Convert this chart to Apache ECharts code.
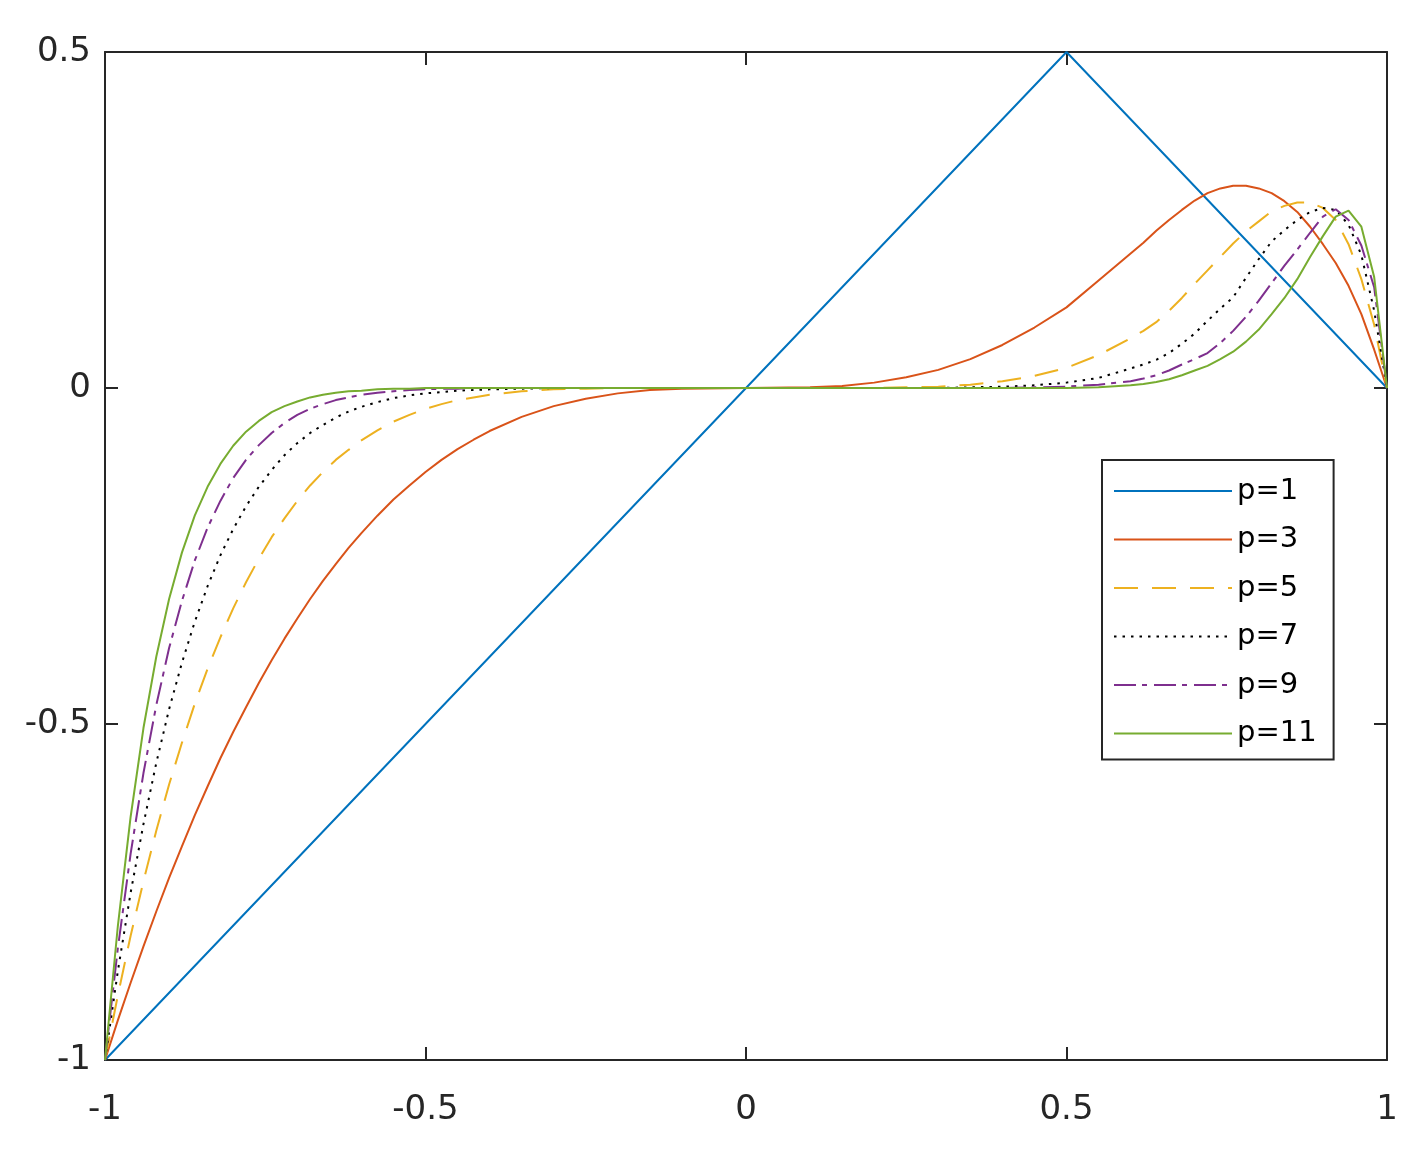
<!DOCTYPE html>
<html>
<head>
<meta charset="utf-8">
<script src="https://cdn.jsdelivr.net/npm/echarts@6/dist/echarts.min.js"></script>
<style>
  html, body { margin: 0; padding: 0; background: #fff; }
  #chart { width: 1422px; height: 1150px; }
</style>
</head>
<body>
<div id="chart"></div>
<script>
// sample points along x (shared by p=3..11)
const xGrid = [
  -1, -0.98, -0.96, -0.94, -0.92, -0.9, -0.88, -0.86, -0.84, -0.82,
  -0.8, -0.78, -0.76, -0.74, -0.72, -0.7, -0.68, -0.66, -0.64, -0.62,
  -0.6, -0.575, -0.55, -0.525, -0.5, -0.475, -0.45, -0.425, -0.4, -0.35,
  -0.3, -0.25, -0.2, -0.15, -0.1,
  0,
  0.1, 0.15, 0.2, 0.25, 0.3, 0.35, 0.4, 0.45, 0.5, 0.55,
  0.6, 0.62, 0.64, 0.66, 0.68, 0.7, 0.72, 0.74, 0.76, 0.78,
  0.8, 0.82, 0.84, 0.86, 0.88, 0.9, 0.92, 0.94, 0.96, 0.98,
  1];

const p1X = [-1, 0.5, 1];
const p1Y = [-1, 0.5, 0];

const p3Y = [
  -1, -0.941, -0.885, -0.831, -0.779, -0.729, -0.682, -0.636, -0.593, -0.551,
  -0.512, -0.475, -0.439, -0.405, -0.373, -0.343, -0.314, -0.287, -0.262, -0.238,
  -0.216, -0.19, -0.166, -0.145, -0.125, -0.107, -0.091, -0.077, -0.064, -0.043,
  -0.027, -0.016, -0.008, -0.003, -0.001,
  0,
  0.001, 0.003, 0.008, 0.016, 0.027, 0.043, 0.064, 0.09, 0.12, 0.16,
  0.2, 0.216, 0.234, 0.25, 0.265, 0.279, 0.29, 0.297, 0.301, 0.301,
  0.297, 0.29, 0.278, 0.262, 0.24, 0.214, 0.186, 0.152, 0.11, 0.057,
  0];

const p5Y = [
  -1, -0.904, -0.815, -0.734, -0.659, -0.59, -0.528, -0.47, -0.418, -0.371,
  -0.328, -0.289, -0.254, -0.222, -0.194, -0.168, -0.145, -0.125, -0.107, -0.092,
  -0.078, -0.063, -0.05, -0.04, -0.031, -0.024, -0.018, -0.014, -0.01, -0.005,
  -0.002, -0.001, 0, 0, 0,
  0,
  0, 0, 0, 0.001, 0.002, 0.005, 0.01, 0.018, 0.03, 0.049,
  0.074, 0.085, 0.098, 0.115, 0.134, 0.155, 0.175, 0.195, 0.215, 0.233,
  0.248, 0.263, 0.271, 0.276, 0.276, 0.268, 0.25, 0.214, 0.162, 0.094,
  0];

const p7Y = [
  -1, -0.868, -0.751, -0.649, -0.558, -0.478, -0.409, -0.348, -0.295, -0.249,
  -0.21, -0.176, -0.147, -0.122, -0.1, -0.082, -0.067, -0.055, -0.044, -0.035,
  -0.028, -0.021, -0.015, -0.011, -0.008, -0.006, -0.004, -0.003, -0.002, -0.001,
  0, 0, 0, 0, 0,
  0,
  0, 0, 0, 0, 0, 0.001, 0.002, 0.004, 0.008, 0.015,
  0.029, 0.035, 0.042, 0.052, 0.066, 0.081, 0.1, 0.118, 0.135, 0.164,
  0.192, 0.218, 0.235, 0.25, 0.262, 0.268, 0.265, 0.243, 0.198, 0.115,
  0];

const p9Y = [
  -1, -0.834, -0.693, -0.573, -0.472, -0.387, -0.317, -0.257, -0.208, -0.168,
  -0.134, -0.107, -0.085, -0.067, -0.052, -0.04, -0.031, -0.024, -0.018, -0.014,
  -0.01, -0.007, -0.005, -0.003, -0.002, -0.001, -0.001, 0, 0, 0,
  0, 0, 0, 0, 0,
  0,
  0, 0, 0, 0, 0, 0, 0, 0.001, 0.002, 0.005,
  0.01, 0.014, 0.019, 0.026, 0.035, 0.043, 0.052, 0.067, 0.085, 0.106,
  0.13, 0.156, 0.182, 0.206, 0.231, 0.255, 0.266, 0.25, 0.212, 0.15,
  0];

const p11Y = [
  -1, -0.801, -0.638, -0.506, -0.4, -0.314, -0.245, -0.19, -0.147, -0.113,
  -0.086, -0.065, -0.049, -0.036, -0.027, -0.02, -0.014, -0.01, -0.007, -0.005,
  -0.004, -0.002, -0.001, -0.001, 0, 0, 0, 0, 0, 0,
  0, 0, 0, 0, 0,
  0,
  0, 0, 0, 0, 0, 0, 0, 0, 0, 0.001,
  0.004, 0.006, 0.009, 0.013, 0.019, 0.026, 0.033, 0.043, 0.054, 0.069,
  0.087, 0.11, 0.134, 0.162, 0.195, 0.226, 0.255, 0.264, 0.24, 0.165,
  0];

const xTicks = [-1, -0.5, 0, 0.5, 1];
const yTicks = [-1, -0.5, 0, 0.5];

const pair = (xs, ys) => xs.map((x, i) => [x, ys[i]]);

const chart = echarts.init(document.getElementById('chart'));

const axisColor = '#262626';
const tickFont = { fontFamily: 'DejaVu Sans', fontSize: 34, color: '#262626' };

// box axis (MATLAB style): line on all four sides, ticks pointing in
const boxAxis = (position, min, max, labels, margin) => ({
  type: 'value', min, max, interval: 0.5, position,
  axisLine: { show: true, onZero: false, lineStyle: { color: axisColor, width: 2 } },
  axisTick: { show: true, inside: true, length: 13, lineStyle: { color: axisColor, width: 2 } },
  axisLabel: labels ? { ...tickFont, margin } : { show: false },
  splitLine: { show: false }
});

const makeLine = (name, data, color, type) => ({
  name,
  type: 'line',
  data,
  symbol: 'none',
  showSymbol: false,
  lineStyle: { color, width: 2, type },
  itemStyle: { color },
  z: 3
});

chart.setOption({
  animation: false,
  backgroundColor: '#fff',
  grid: { left: 105, right: 35, top: 52, bottom: 90, containLabel: false },
  xAxis: [
    boxAxis('bottom', xTicks[0], xTicks[xTicks.length - 1], true, 33),
    boxAxis('top', xTicks[0], xTicks[xTicks.length - 1], false)
  ],
  yAxis: [
    boxAxis('left', yTicks[0], yTicks[yTicks.length - 1], true, 14),
    boxAxis('right', yTicks[0], yTicks[yTicks.length - 1], false)
  ],
  legend: {
    left: 1102,
    top: 460,
    orient: 'vertical',
    backgroundColor: '#fff',
    borderColor: '#262626',
    borderWidth: 2,
    borderRadius: 0,
    padding: [14, 17, 9, 11],
    itemWidth: 118,
    itemHeight: 20,
    itemGap: 14.5,
    itemStyle: { opacity: 0 },
    textStyle: { fontFamily: 'DejaVu Sans', fontSize: 29, lineHeight: 34, color: '#000' },
    data: ['p=1', 'p=3', 'p=5', 'p=7', 'p=9', 'p=11']
  },
  series: [
    makeLine('p=1', pair(p1X, p1Y), '#0072BD', 'solid'),
    makeLine('p=3', pair(xGrid, p3Y), '#D95319', 'solid'),
    makeLine('p=5', pair(xGrid, p5Y), '#EDB120', [24, 14]),
    makeLine('p=7', pair(xGrid, p7Y), '#000000', [2.5, 6]),
    makeLine('p=9', pair(xGrid, p9Y), '#7E2F8E', [22, 6, 5, 7]),
    makeLine('p=11', pair(xGrid, p11Y), '#77AC30', 'solid')
  ]
});

window.addEventListener('resize', () => chart.resize());
</script>
</body>
</html>
